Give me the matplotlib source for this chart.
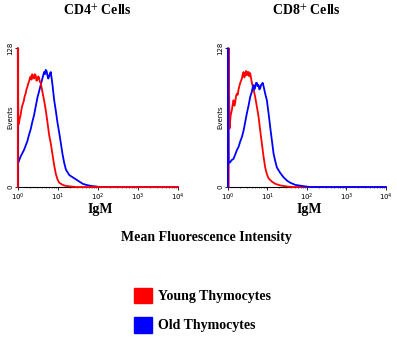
import numpy as np
import matplotlib
matplotlib.use('Agg')
import matplotlib.pyplot as plt
from matplotlib.patches import Patch

# log10 positions (decades) and event counts
cd4_young_x = [0.0, 0.0, 0.01, 0.025, 0.045, 0.067, 0.088, 0.109, 0.13, 0.151, 0.172, 0.193,
               0.214, 0.235, 0.256, 0.277, 0.298, 0.319, 0.34, 0.361, 0.382, 0.403, 0.424,
               0.445, 0.466, 0.487, 0.508, 0.529, 0.55, 0.571, 0.613, 0.655, 0.697, 0.739,
               0.782, 0.824, 0.866, 0.908, 0.950, 0.992, 1.034, 1.118, 1.20, 1.33, 1.45, 4.0]
cd4_young_y = [0, 128, 60, 58, 63, 66, 71, 75, 77, 80, 84, 86,
               90, 92, 95, 97, 100, 102, 99, 104, 101, 100, 104,
               103, 98, 99, 102, 101, 97, 96, 88, 80, 71, 60,
               48, 40, 30, 20, 12, 7, 4, 2, 1, 0.5, 0, 0]

cd4_old_x = [0.0, 0.0, 0.005, 0.025, 0.067, 0.109, 0.151, 0.193, 0.235, 0.277, 0.319, 0.361,
             0.403, 0.445, 0.487, 0.529, 0.571, 0.613, 0.634, 0.655, 0.676, 0.697, 0.718,
             0.739, 0.76, 0.782, 0.803, 0.824, 0.845, 0.866, 0.908, 0.950, 0.992, 1.034,
             1.076, 1.118, 1.160, 1.202, 1.286, 1.370, 1.454, 1.538, 1.622, 1.706, 1.832,
             1.958, 2.04, 4.0]
cd4_old_y = [0, 128, 22, 24, 28, 31, 34, 38, 42, 48, 53, 60,
             66, 74, 82, 88, 94, 100, 103, 106, 104, 108, 107,
             103, 100, 102, 105, 106, 100, 94, 80, 70, 59, 50,
             40, 30, 22, 16, 11, 9, 7, 5, 3, 2, 1,
             0.5, 0, 0]

cd8_young_x = [0.02, 0.02, 0.042, 0.07, 0.101, 0.122, 0.143, 0.165, 0.186, 0.207, 0.228, 0.249,
               0.270, 0.291, 0.312, 0.333, 0.354, 0.376, 0.397, 0.418, 0.439, 0.46, 0.481,
               0.502, 0.523, 0.544, 0.565, 0.608, 0.650, 0.692, 0.734, 0.776, 0.819, 0.861,
               0.903, 0.945, 0.987, 1.030, 1.114, 1.198, 1.325, 1.494, 1.62, 4.0]
cd8_young_y = [0, 128, 54, 66, 71, 76, 80, 75, 78, 84, 86, 85,
               90, 93, 96, 98, 100, 104, 106, 101, 104, 107, 103,
               106, 106, 102, 105, 96, 90, 83, 74, 65, 52, 40,
               28, 18, 12, 8, 5, 3, 1.5, 0.5, 0, 0]

cd8_old_x = [0.0, 0.0, 0.017, 0.059, 0.101, 0.143, 0.186, 0.228, 0.270, 0.312, 0.354, 0.397,
             0.439, 0.481, 0.523, 0.565, 0.608, 0.629, 0.650, 0.671, 0.692, 0.713, 0.734,
             0.755, 0.776, 0.797, 0.819, 0.84, 0.861, 0.882, 0.903, 0.945, 0.987, 1.030,
             1.072, 1.114, 1.156, 1.198, 1.241, 1.325, 1.409, 1.494, 1.578, 1.705, 1.873,
             2.08, 4.0]
cd8_old_y = [0, 128, 22, 23, 25, 26, 30, 34, 37, 42, 46, 52,
             60, 68, 75, 83, 88, 92, 94, 90, 92, 96, 96,
             93, 94, 90, 91, 94, 95, 96, 93, 86, 80, 68,
             55, 43, 31, 24, 18, 13, 9, 6, 4, 2, 1,
             0, 0]

titles = ['CD4$^{+}$ Cells', 'CD8$^{+}$ Cells']
series = [
    [(cd4_old_x, cd4_old_y, '#0000ff'), (cd4_young_x, cd4_young_y, '#ff0000')],
    [(cd8_young_x, cd8_young_y, '#ff0000'), (cd8_old_x, cd8_old_y, '#0000ff')],
]
legend_labels = ['Young Thymocytes', 'Old Thymocytes']
legend_colors = ['#ff0000', '#0000ff']

plt.rcParams['mathtext.fontset'] = 'stix'
serif = 'Liberation Serif'

fig = plt.figure(figsize=(3.97, 3.37), dpi=100)
positions = [[0.045, 0.445, 0.403, 0.412], [0.574, 0.445, 0.398, 0.412]]

for pos, title, lines in zip(positions, titles, series):
    ax = fig.add_axes(pos)
    for xs, ys, col in lines:
        ax.plot(10 ** np.array(xs), ys, color=col, lw=1.3, clip_on=False, zorder=3)
    ax.set_xscale('log')
    ax.set_xlim(1, 1e4)
    ax.set_ylim(0, 128)
    ax.set_yticks([0, 128])
    ax.set_yticklabels(['0', '128'], rotation=90, va='center', fontsize=5)
    ax.set_ylabel('Events', fontsize=5, labelpad=-4)
    ax.tick_params(axis='x', labelsize=5, length=2, width=0.6, pad=1)
    ax.tick_params(axis='x', which='minor', length=1, width=0.4)
    ax.tick_params(axis='y', length=2, width=0.6, pad=1)
    for s in ['top', 'right']:
        ax.spines[s].set_visible(False)
    ax.spines['left'].set_linewidth(0.8)
    ax.spines['bottom'].set_linewidth(0.8)
    cx = pos[0] + pos[2] / 2
    fig.text(cx, 0.968, title, ha='center', va='center', fontsize=10,
             family=serif, weight='bold')
    fig.text(cx + 0.005, 1 - 209 / 337, 'IgM', ha='center', va='center', fontsize=10,
             family=serif, weight='bold')

fig.text(0.52, 1 - 237 / 337, 'Mean Fluorescence Intensity', ha='center', va='center',
         fontsize=10, family=serif, weight='bold')

handles = [Patch(facecolor=c, edgecolor=c) for c in legend_colors]
fig.legend(handles, legend_labels, loc='center left', bbox_to_anchor=(0.305, 0.08),
           frameon=False, prop={'family': serif, 'weight': 'bold', 'size': 10},
           handlelength=1.35, handleheight=1.35, labelspacing=1.0, handletextpad=0.4)

plt.savefig('out.png', dpi=100)
